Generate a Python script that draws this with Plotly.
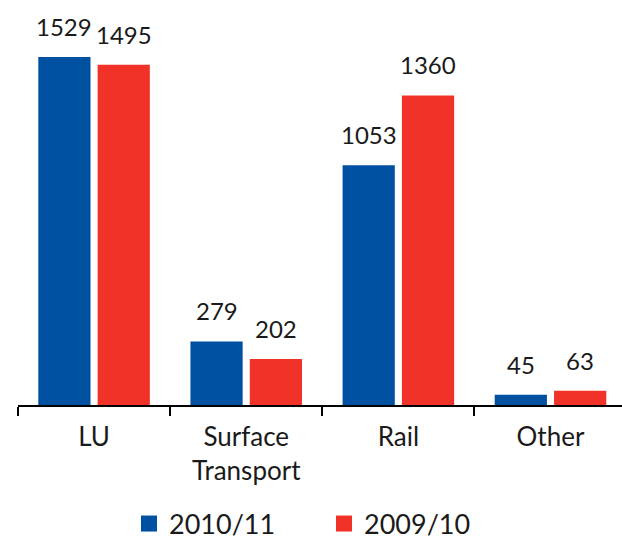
import plotly.graph_objects as go

categories = ["LU", "Surface<br>Transport", "Rail", "Other"]
series_names = ["2010/11", "2009/10"]
values_2010 = [1529, 279, 1053, 45]
values_2009 = [1495, 202, 1360, 63]
colors = ["#0050a2", "#f03228"]

W, H = 622, 542
ML, MR, MT, MB = 18, 0, 18, 137
x_range = [-0.5, 3.47]
y_range = [0, 1700]
bargap, bargroupgap = 0.22, 0.12
FONT = "Lato, 'Open Sans', sans-serif"

plot_w = W - ML - MR
plot_h = H - MT - MB
cat_px = plot_w / (x_range[1] - x_range[0])
slot_px = cat_px * (1 - bargap) / 2

fig = go.Figure()
for name, vals, col in zip(series_names, [values_2010, values_2009], colors):
    fig.add_trace(go.Bar(x=categories, y=vals, name=name, marker_color=col,
                         marker_line_width=0, showlegend=False))
# legend proxies
for name, col in zip(series_names, colors):
    fig.add_trace(go.Scatter(x=[None], y=[None], mode="markers", name=name,
                             marker=dict(symbol="square", size=20, color=col)))

annotations = []
for i, (vals, sign) in enumerate([(values_2010, -1), (values_2009, 1)]):
    for c, v in zip(categories, vals):
        annotations.append(dict(x=c, y=v, text=str(v), showarrow=False,
                                xref="x", yref="y", yanchor="bottom",
                                xshift=sign * slot_px / 2, yshift=14,
                                font=dict(size=24, color="#1a1a1a", family=FONT)))

fig.update_layout(
    width=W, height=H,
    margin=dict(l=ML, r=MR, t=MT, b=MB, autoexpand=False),
    paper_bgcolor="white", plot_bgcolor="white",
    barmode="group", bargap=bargap, bargroupgap=bargroupgap,
    font=dict(family=FONT, color="#1a1a1a"),
    annotations=annotations,
    showlegend=True,
    legend=dict(orientation="h", x=(129 - ML) / plot_w, xanchor="left",
                y=-(524 - (H - MB)) / plot_h, yanchor="middle",
                font=dict(size=27, color="#1a1a1a", family=FONT),
                itemsizing="trace", entrywidth=150, traceorder="normal"),
    xaxis=dict(type="category", range=x_range, tickson="boundaries",
               showline=True, linecolor="black", linewidth=2,
               ticks="outside", ticklen=9, tickwidth=2, tickcolor="black",
               ticklabelstandoff=8, automargin=False,
               showgrid=False, zeroline=False,
               tickfont=dict(size=26, color="#1a1a1a", family=FONT)),
    yaxis=dict(range=y_range, visible=False, showgrid=False, zeroline=False),
)

fig.write_html("out.html")
